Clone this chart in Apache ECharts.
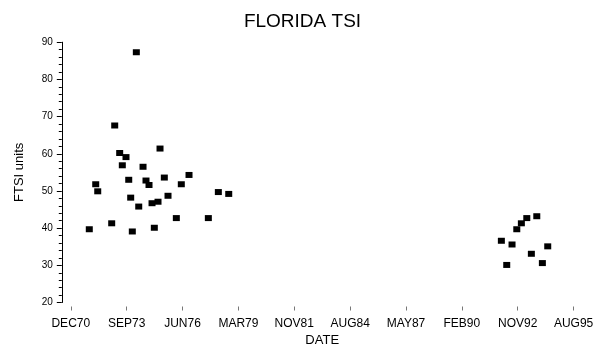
<!DOCTYPE html>
<html>
<head>
<meta charset="utf-8">
<script src="https://cdn.jsdelivr.net/npm/echarts@6/dist/echarts.min.js"></script>
<style>
html,body{margin:0;padding:0;background:#fff;}
#chart{width:605px;height:354px;}
</style>
</head>
<body>
<div id="chart"></div>
<script>
// Dates as day numbers (days since 1960-01-01), tick labels every 1000 days
const xTickValues = [4000, 5000, 6000, 7000, 8000, 9000, 10000, 11000, 12000, 13000];
const xTickLabels = ['DEC70', 'SEP73', 'JUN76', 'MAR79', 'NOV81', 'AUG84', 'MAY87', 'FEB90', 'NOV92', 'AUG95'];
const yTickValues = [20, 30, 40, 50, 60, 70, 80, 90];

const dates = [
  4331, 4446, 4482, 4732, 4786, 4875, 4988, 4922, 5037, 5072,
  5101, 5173, 5216, 5293, 5346, 5400, 5454, 5495, 5561, 5597,
  5674, 5740, 5889, 5978, 6116, 6462, 6641, 6827,
  12162, 12065, 11983, 12341, 11707, 11898, 12537, 12244, 11803, 12441
];
const tsi = [
  39.7, 51.8, 49.9, 41.3, 67.6, 60.2, 59.1, 56.9, 53.0, 48.2,
  39.1, 87.3, 45.8, 56.5, 52.8, 51.6, 46.7, 40.1, 47.1, 61.4,
  53.6, 48.7, 42.7, 51.8, 54.3, 42.7, 49.7, 49.2,
  42.7, 41.3, 39.7, 43.2, 36.6, 35.6, 35.1, 33.1, 30.1, 30.6
];

const FONT = "'Liberation Sans', Arial, sans-serif";
const chart = echarts.init(document.getElementById('chart'), null, {renderer: 'canvas'});
chart.setOption({
  animation: false,
  backgroundColor: '#ffffff',
  title: {
    text: 'FLORIDA TSI',
    left: 'center',
    top: 7,
    textStyle: {fontFamily: FONT, fontSize: 19, fontWeight: 'normal', color: '#000'}
  },
  grid: {left: 70.8, right: 31.4, top: 42.2, bottom: 51.5, containLabel: false},
  xAxis: {
    type: 'value',
    min: xTickValues[0],
    max: xTickValues[xTickValues.length - 1],
    interval: 1000,
    offset: 4,
    name: 'DATE',
    nameLocation: 'middle',
    nameGap: 26,
    nameTextStyle: {fontFamily: FONT, fontSize: 13, color: '#000'},
    axisLine: {show: false},
    axisTick: {show: true, length: 4, lineStyle: {color: '#777', width: 1}},
    splitLine: {show: false},
    axisLabel: {
      margin: 11,
      fontFamily: FONT, fontSize: 12, color: '#000',
      formatter: function (v) {
        const i = xTickValues.indexOf(v);
        return i >= 0 ? xTickLabels[i] : '';
      }
    }
  },
  yAxis: {
    type: 'value',
    min: yTickValues[0],
    max: yTickValues[yTickValues.length - 1],
    interval: 10,
    offset: 9,
    name: 'FTSI units',
    nameLocation: 'middle',
    nameGap: 36,
    nameTextStyle: {fontFamily: FONT, fontSize: 13, color: '#000'},
    axisLine: {show: true, lineStyle: {color: '#000', width: 1}},
    axisTick: {show: true, length: 5, lineStyle: {color: '#000', width: 1}},
    minorTick: {show: true, splitNumber: 5, length: 3, lineStyle: {color: '#000', width: 1}},
    splitLine: {show: false},
    axisLabel: {margin: 9, fontFamily: FONT, fontSize: 10, color: '#000'}
  },
  series: [{
    type: 'scatter',
    name: 'FLORIDA TSI',
    data: dates.map((d, i) => [d, tsi[i]]),
    symbol: 'rect',
    symbolSize: [7, 6],
    itemStyle: {color: '#000', opacity: 1}
  }]
});
</script>
</body>
</html>
